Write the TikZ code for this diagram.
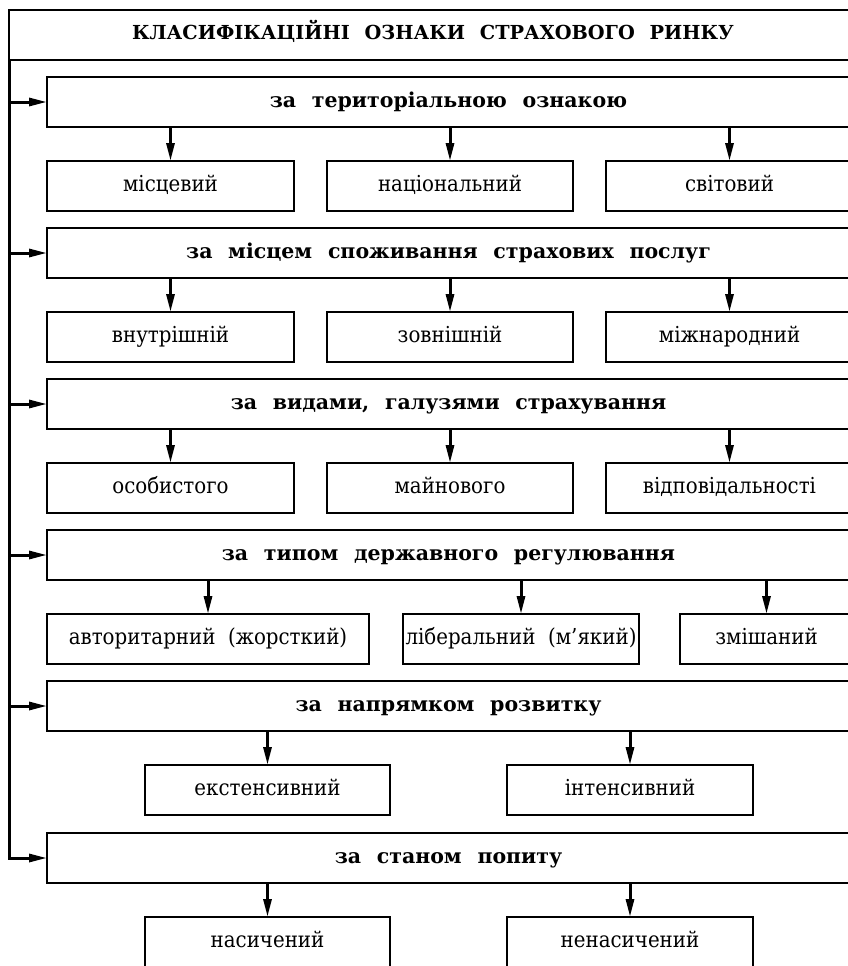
\documentclass[tikz,border=0pt]{standalone}
\usepackage{fontspec}
\setmainfont{DejaVu Serif}[WordSpace=2, FakeStretch=0.9]
\newfontfamily\headfnt{DejaVu Serif}[WordSpace=2.2]
\usetikzlibrary{arrows.meta}

\begin{document}
\begin{tikzpicture}[x=1pt, y=-1pt,
  box/.style={draw, line width=2.5pt, anchor=north west, inner sep=0pt,
    outer sep=0pt, minimum height=50pt},
  titlebox/.style={box, text height=14pt, text depth=4pt,
    font=\headfnt\bfseries\fontsize{19.3}{22}\selectfont},
  catbox/.style={box, minimum width=803pt, text height=14pt, text depth=4pt,
    font=\headfnt\bfseries\fontsize{20.5}{23}\selectfont},
  itembox/.style={box, text height=15pt, text depth=5pt,
    font=\fontsize{22}{25}\selectfont},
  arr/.style={line width=3pt, -{Triangle[length=18pt, width=8pt]}}]

\useasboundingbox (0,0) rectangle (848,966);
\clip (0,0) rectangle (848,966);

% header
\node[titlebox, minimum width=848pt] (title) at (9,10)
  {КЛАСИФІКАЦІЙНІ ОЗНАКИ СТРАХОВОГО РИНКУ};

% classification criteria
\node[catbox] (c0) at (47,77)  {за територіальною ознакою};
\node[catbox] (c1) at (47,228) {за місцем споживання страхових послуг};
\node[catbox] (c2) at (47,379) {за видами, галузями страхування};
\node[catbox] (c3) at (47,530) {за типом державного регулювання};
\node[catbox] (c4) at (47,681) {за напрямком розвитку};
\node[catbox] (c5) at (47,833) {за станом попиту};

% market types for each criterion
\node[itembox, minimum width=247pt] (a1) at (47,161)  {місцевий};
\node[itembox, minimum width=246pt] (a2) at (327,161) {національний};
\node[itembox, minimum width=247pt] (a3) at (606,161) {світовий};

\node[itembox, minimum width=247pt] (b1) at (47,312)  {внутрішній};
\node[itembox, minimum width=246pt] (b2) at (327,312) {зовнішній};
\node[itembox, minimum width=247pt] (b3) at (606,312) {міжнародний};

\node[itembox, minimum width=247pt] (d1) at (47,463)  {особистого};
\node[itembox, minimum width=246pt] (d2) at (327,463) {майнового};
\node[itembox, minimum width=247pt] (d3) at (606,463) {відповідальності};

\node[itembox, minimum width=322pt] (e1) at (47,614)  {авторитарний (жорсткий)};
\node[itembox, minimum width=236pt] (e2) at (403,614) {ліберальний (м’який)};
\node[itembox, minimum width=173pt] (e3) at (680,614) {змішаний};

\node[itembox, minimum width=245pt] (f1) at (145,765) {екстенсивний};
\node[itembox, minimum width=246pt] (f2) at (507,765) {інтенсивний};

\node[itembox, minimum width=245pt] (g1) at (145,917) {насичений};
\node[itembox, minimum width=246pt] (g2) at (507,917) {ненасичений};

% left spine feeding every criterion
\draw[arr] (title.south west) |- (c5.west);
\foreach \c in {c0,c1,c2,c3,c4}
  \draw[arr] (title.south west |- \c.west) -- (\c.west);

% criterion -> types
\foreach \c/\t in {c0/a1,c0/a2,c0/a3,c1/b1,c1/b2,c1/b3,c2/d1,c2/d2,c2/d3,
                   c3/e1,c3/e2,c3/e3,c4/f1,c4/f2,c5/g1,c5/g2}
  \draw[arr] (\c.south -| \t.north) -- (\t.north);
\end{tikzpicture}
\end{document}
